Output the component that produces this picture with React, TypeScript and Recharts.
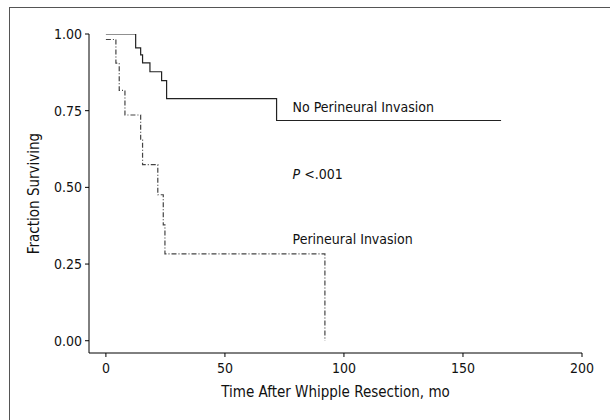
import React from 'react';
import {
  LineChart,
  Line,
  XAxis,
  YAxis,
  ReferenceDot,
} from 'recharts';

// Kaplan-Meier steps: month, fraction surviving
const noInvasionTimes = [0, 12.5, 14.6, 15.4, 18.5, 23.4, 25.5, 71.7, 166];
const noInvasionSurv = [1.0, 0.955, 0.932, 0.906, 0.877, 0.848, 0.789, 0.718, 0.718];

const invasionTimes = [0, 4.2, 5.6, 8.0, 14.6, 15.4, 21.8, 24.1, 24.8, 92];
const invasionSurv = [0.982, 0.905, 0.816, 0.736, 0.654, 0.574, 0.476, 0.378, 0.283, 0];

const xTicks = [0, 50, 100, 150, 200];
const yTicks = [0, 0.25, 0.5, 0.75, 1];

const noInvasion = noInvasionTimes.map((t, i) => ({ t, s: noInvasionSurv[i] }));
const invasion = invasionTimes.map((t, i) => ({ t, s: invasionSurv[i] }));

const FONT = "'Liberation Sans Narrow', 'Arial Narrow', 'DejaVu Sans Condensed', sans-serif";
const TEXT = '#111';

const Annot = ({ viewBox, text, italicLead }: any) => {
  const x = viewBox?.x ?? 0;
  const y = viewBox?.y ?? 0;
  return (
    <text
      x={x}
      y={y}
      dy="0.355em"
      fontFamily={FONT}
      fontSize={14}
      fill={TEXT}
    >
      {italicLead ? <tspan fontStyle="italic">{italicLead}</tspan> : null}
      {text}
    </text>
  );
};

const YTitle = ({ viewBox }: any) => {
  const x = (viewBox?.x ?? 0) + 18.5;
  const y = (viewBox?.y ?? 0) + (viewBox?.height ?? 0) / 2;
  return (
    <text
      x={x}
      y={y}
      transform={`rotate(-90, ${x}, ${y})`}
      textAnchor="middle"
      fontFamily={FONT}
      fontSize={15}
      fill={TEXT}
    >
      Fraction Surviving
    </text>
  );
};

export default function App() {
  return (
    <div style={{ position: 'absolute', left: 0, top: 0, width: 610, height: 420, background: '#fff' }}>
      <div
        style={{
          position: 'absolute',
          left: 9,
          top: 7,
          width: 620,
          height: 430,
          borderLeft: '1.5px solid #555',
          borderTop: '1.5px solid #555',
        }}
      />
      <LineChart
        width={610}
        height={420}
        margin={{ top: 34, right: 28, bottom: 17, left: 20 }}
        style={{ position: 'absolute', left: 0, top: 0 }}
      >
        <XAxis
          type="number"
          dataKey="t"
          domain={[-7.1, 200]}
          ticks={xTicks}
          allowDataOverflow
          height={50}
          stroke="#000"
          tickSize={4}
          tickMargin={6}
          tick={{ fill: TEXT, fontSize: 14, fontFamily: FONT }}
          label={{
            value: 'Time After Whipple Resection, mo',
            position: 'insideBottom',
            offset: 6,
            fill: TEXT,
            fontSize: 15,
            fontFamily: FONT,
          }}
        />
        <YAxis
          type="number"
          dataKey="s"
          domain={[-0.04, 1]}
          ticks={yTicks}
          allowDataOverflow
          width={69}
          stroke="#000"
          tickSize={4}
          tickMargin={3}
          tickFormatter={(v: number) => v.toFixed(2)}
          tick={{ fill: TEXT, fontSize: 14, fontFamily: FONT }}
          label={{ content: (p: any) => <YTitle {...p} /> }}
        />
        <Line
          data={noInvasion}
          dataKey="s"
          type="stepAfter"
          stroke="#222"
          strokeWidth={1.2}
          dot={false}
          isAnimationActive={false}
        />
        <Line
          data={invasion}
          dataKey="s"
          type="stepAfter"
          stroke="#444"
          strokeWidth={1.2}
          strokeDasharray="5 2 1 2"
          dot={false}
          isAnimationActive={false}
        />
        <ReferenceDot
          x={78.4}
          y={0.763}
          r={0}
          fill="none"
          stroke="none"
          label={{ content: (p: any) => <Annot {...p} text="No Perineural Invasion" /> }}
        />
        <ReferenceDot
          x={78.4}
          y={0.544}
          r={0}
          fill="none"
          stroke="none"
          label={{ content: (p: any) => <Annot {...p} italicLead="P" text=" <.001" /> }}
        />
        <ReferenceDot
          x={78.4}
          y={0.332}
          r={0}
          fill="none"
          stroke="none"
          label={{ content: (p: any) => <Annot {...p} text="Perineural Invasion" /> }}
        />
      </LineChart>
    </div>
  );
}
